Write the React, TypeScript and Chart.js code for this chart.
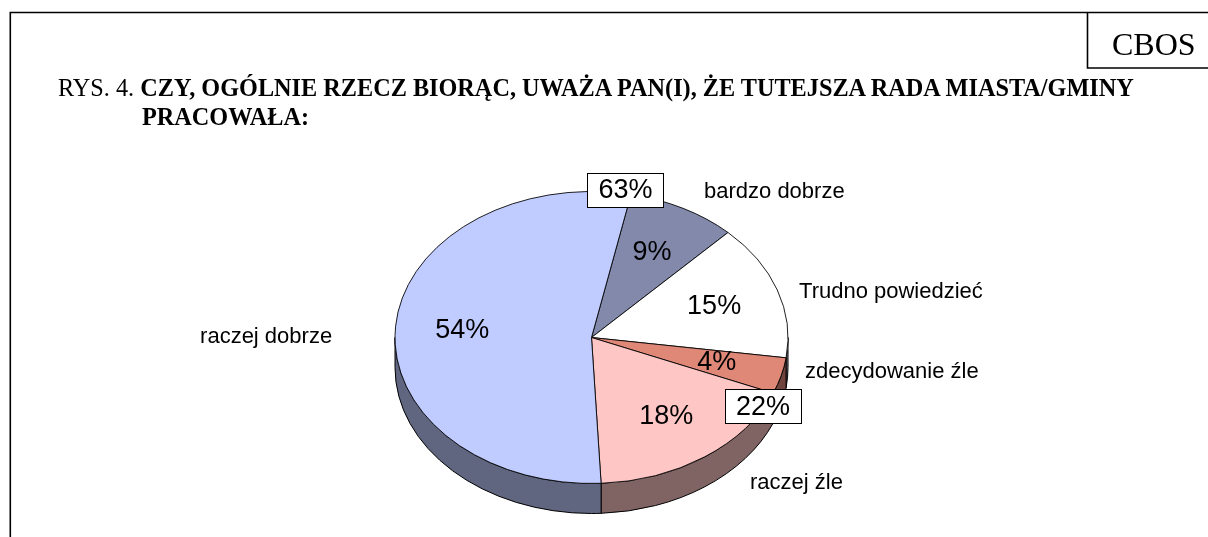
import React, { useEffect, useRef } from 'react';
import { Chart, registerables } from 'chart.js';

Chart.register(...registerables);

// ---- data ----
const categories = ['bardzo dobrze', 'Trudno powiedzieć', 'zdecydowanie źle', 'raczej źle', 'raczej dobrze'];
const values = [9, 15, 4, 18, 54];
const positiveGroup = ['raczej dobrze', 'bardzo dobrze'];
const negativeGroup = ['zdecydowanie źle', 'raczej źle'];
const firstSliceAngle = 11.6; // degrees clockwise from 12 o'clock

const titlePrefix = 'RYS. 4. ';
const titleLine1 = 'CZY, OGÓLNIE RZECZ BIORĄC, UWAŻA PAN(I), ŻE TUTEJSZA RADA MIASTA/GMINY';
const titleLine2 = 'PRACOWAŁA:';
const sourceLabel = 'CBOS';

// ---- styles ----
const topColors = ['#8289ab', '#ffffff', '#e08878', '#ffc6c6', '#c0ccff'];
const TILT = 146 / 196.5; // vertical squash of the pie face
const DEPTH = 30; // px thickness of the 3D side
const INNER_FACTOR = 0.66;
const LABEL_FONT = '22px "Liberation Sans", Arial, sans-serif';
const VALUE_FONT = '27px "Liberation Sans", Arial, sans-serif';
// label anchor positions, in units of radius (x) / vertical radius (y) from the pie centre
const outerLabelPos = [
  { ux: 0.5725, uy: -0.997 },
  { ux: 1.056, uy: -0.312 },
  { ux: 1.0865, uy: 0.236 },
  { ux: 0.8066, uy: 0.997 },
  { ux: -1.992, uy: -0.003 },
];
const groupBoxPos = [
  { ux: 0.173, uy: -1.01 },
  { ux: 0.8728, uy: 0.4726 },
];

function darken(hex: string, f: number) {
  const n = parseInt(hex.slice(1), 16);
  const r = Math.round(((n >> 16) & 255) * f);
  const g = Math.round(((n >> 8) & 255) * f);
  const b = Math.round((n & 255) * f);
  return `rgb(${r},${g},${b})`;
}

const sumOf = (names: string[]) =>
  names.reduce((s, nm) => s + values[categories.indexOf(nm)], 0);

const pie3dPlugin = {
  id: 'pie3d',
  beforeDraw(chart: any) {
    const ctx = chart.ctx as CanvasRenderingContext2D;
    ctx.save();
    ctx.fillStyle = '#fff';
    ctx.fillRect(0, 0, chart.width, chart.height);
    ctx.strokeStyle = '#000';
    ctx.lineWidth = 1.6;
    ctx.beginPath();
    ctx.moveTo(10.3, chart.height + 2);
    ctx.lineTo(10.3, 12.5);
    ctx.lineTo(chart.width + 2, 12.5);
    ctx.moveTo(1087.5, 12.5);
    ctx.lineTo(1087.5, 68);
    ctx.lineTo(chart.width + 2, 68);
    ctx.stroke();
    ctx.restore();
  },
  beforeDatasetsDraw(chart: any) {
    const ctx = chart.ctx as CanvasRenderingContext2D;
    const arcs = chart.getDatasetMeta(0).data as any[];
    if (!arcs.length) return;
    const { x: cx, y: cy, outerRadius: r } = arcs[0].getProps(['x', 'y', 'outerRadius'], true);
    const ry = r * TILT;
    ctx.save();
    arcs.forEach((arc, i) => {
      const { startAngle, endAngle } = arc.getProps(['startAngle', 'endAngle'], true);
      for (let n = -1; n <= 2; n++) {
        const lo = Math.max(startAngle, n * 2 * Math.PI);
        const hi = Math.min(endAngle, n * 2 * Math.PI + Math.PI);
        if (hi <= lo) continue;
        ctx.beginPath();
        ctx.ellipse(cx, cy, r, ry, 0, lo, hi, false);
        ctx.ellipse(cx, cy + DEPTH, r, ry, 0, hi, lo, true);
        ctx.closePath();
        ctx.fillStyle = darken(topColors[i], 0.5);
        ctx.fill();
        ctx.lineWidth = 1;
        ctx.strokeStyle = '#000';
        ctx.lineJoin = 'round';
        ctx.stroke();
      }
    });
    ctx.restore();
    ctx.save();
    ctx.translate(cx, cy);
    ctx.scale(1, TILT);
    ctx.translate(-cx, -cy);
  },
  afterDatasetsDraw(chart: any) {
    const ctx = chart.ctx as CanvasRenderingContext2D;
    ctx.restore();
    const arcs = chart.getDatasetMeta(0).data as any[];
    if (!arcs.length) return;
    const { x: cx, y: cy, outerRadius: r } = arcs[0].getProps(['x', 'y', 'outerRadius'], true);
    const ry = r * TILT;
    ctx.save();
    ctx.fillStyle = '#000';
    // values inside slices
    ctx.font = VALUE_FONT;
    ctx.textAlign = 'center';
    ctx.textBaseline = 'middle';
    arcs.forEach((arc, i) => {
      const { startAngle, endAngle } = arc.getProps(['startAngle', 'endAngle'], true);
      const mid = (startAngle + endAngle) / 2;
      ctx.fillText(
        values[i] + '%',
        cx + Math.cos(mid) * r * INNER_FACTOR,
        cy + Math.sin(mid) * ry * INNER_FACTOR
      );
    });
    // category labels
    ctx.font = LABEL_FONT;
    ctx.textAlign = 'left';
    categories.forEach((c, i) => {
      const p = outerLabelPos[i];
      ctx.fillText(c, cx + p.ux * r, cy + p.uy * ry);
    });
    // group totals in boxes
    ctx.font = VALUE_FONT;
    ctx.textAlign = 'center';
    [sumOf(positiveGroup), sumOf(negativeGroup)].forEach((v, i) => {
      const p = groupBoxPos[i];
      const bx = cx + p.ux * r;
      const by = cy + p.uy * ry;
      const txt = v + '%';
      const w = ctx.measureText(txt).width + 22;
      const h = 34;
      ctx.fillStyle = '#fff';
      ctx.fillRect(Math.round(bx - w / 2) + 0.5, Math.round(by - h / 2) + 0.5, Math.round(w), h);
      ctx.strokeStyle = '#000';
      ctx.lineWidth = 1;
      ctx.strokeRect(Math.round(bx - w / 2) + 0.5, Math.round(by - h / 2) + 0.5, Math.round(w), h);
      ctx.fillStyle = '#000';
      ctx.fillText(txt, bx, by + 1);
    });
    ctx.restore();
  },
};

export default function App() {
  const ref = useRef<HTMLCanvasElement>(null);
  useEffect(() => {
    if (!ref.current) return;
    const chart = new Chart(ref.current, {
      type: 'pie',
      data: {
        labels: categories,
        datasets: [
          {
            data: values,
            backgroundColor: topColors,
            borderColor: '#000',
            borderWidth: 1,
            hoverOffset: 0,
            offset: 0,
            clip: false,
          } as any,
        ],
      },
      options: {
        responsive: false,
        devicePixelRatio: 1,
        animation: false,
        events: [],
        rotation: firstSliceAngle,
        layout: { padding: { left: 394.5, right: 419.5, top: 140.5, bottom: 2.5 } },
        plugins: {
          legend: { display: false },
          tooltip: { enabled: false },
        },
      },
      plugins: [pie3dPlugin],
    });
    return () => chart.destroy();
  }, []);

  const serif = '"Liberation Serif", "Times New Roman", serif';
  return (
    <div
      style={{
        position: 'fixed',
        left: 0,
        top: 0,
        width: 1208,
        height: 537,
        background: '#fff',
        overflow: 'hidden',
      }}
    >
      <canvas ref={ref} width={1208} height={537} style={{ position: 'absolute', left: 0, top: 0 }} />
      <div
        style={{
          position: 'absolute',
          left: 58,
          top: 73.2,
          fontFamily: serif,
          fontSize: 24.25,
          lineHeight: '29px',
          whiteSpace: 'nowrap',
          color: '#000',
        }}
      >
        <span>{titlePrefix}</span>
        <b>{titleLine1}</b>
      </div>
      <div
        style={{
          position: 'absolute',
          left: 142,
          top: 102.2,
          fontFamily: serif,
          fontSize: 24.25,
          lineHeight: '29px',
          whiteSpace: 'nowrap',
          fontWeight: 'bold',
          color: '#000',
        }}
      >
        {titleLine2}
      </div>
      <div
        style={{
          position: 'absolute',
          left: 1112,
          top: 28.2,
          fontFamily: serif,
          fontSize: 32,
          lineHeight: '32px',
          whiteSpace: 'nowrap',
          color: '#000',
        }}
      >
        {sourceLabel}
      </div>
    </div>
  );
}
